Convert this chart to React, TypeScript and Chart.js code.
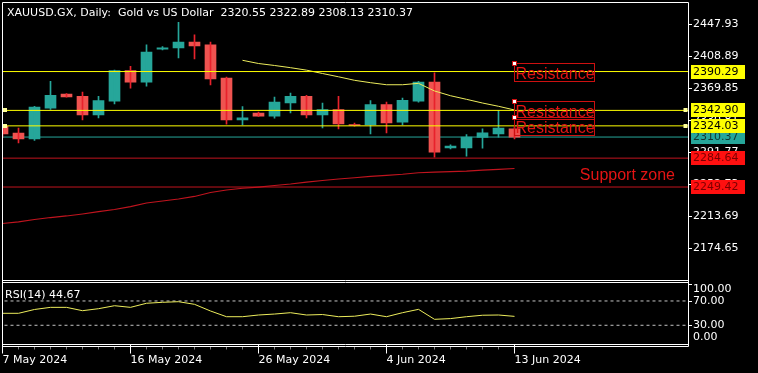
import React, { useEffect, useRef } from 'react';
import { Chart, registerables } from 'chart.js';

Chart.register(...registerables);

// ---------- data ----------
const headerText = 'XAUUSD.GX, Daily:  Gold vs US Dollar  2320.55 2322.89 2308.13 2310.37';
const rsiText = 'RSI(14) 44.67';

const dateTickIndex = [0, 8, 16, 24, 32];
const dateTickLabels = ['7 May 2024', '16 May 2024', '26 May 2024', '4 Jun 2024', '13 Jun 2024'];

const opens = [2323.5, 2315.1, 2308.2, 2345.6, 2362.7, 2360.2, 2337.5, 2354.1, 2391.5, 2377.3, 2417.5, 2419.1, 2426.1, 2422.8, 2382.2, 2331.4, 2339.5, 2335.8, 2352.1, 2360.2, 2337.5, 2344.0, 2325.7, 2325.3, 2350.1, 2328.5, 2354.1, 2377.3, 2297.2, 2297.2, 2309.8, 2314.3, 2320.55];
const highs = [2326.0, 2321.2, 2348.0, 2378.5, 2363.3, 2365.1, 2360.2, 2392.0, 2396.8, 2422.8, 2420.8, 2450.4, 2435.0, 2426.1, 2383.4, 2347.6, 2340.7, 2359.0, 2363.9, 2361.4, 2351.7, 2360.2, 2327.3, 2354.9, 2352.9, 2357.8, 2378.5, 2388.7, 2300.9, 2313.5, 2320.4, 2342.8, 2322.89];
const lows = [2310.0, 2303.3, 2306.2, 2344.0, 2359.0, 2331.4, 2333.8, 2350.9, 2370.0, 2372.4, 2416.8, 2406.9, 2405.7, 2374.0, 2326.1, 2325.3, 2335.5, 2333.4, 2339.9, 2333.8, 2321.6, 2320.4, 2323.7, 2314.3, 2315.5, 2325.3, 2352.9, 2285.8, 2296.0, 2287.1, 2296.8, 2310.2, 2308.13];
const closes = [2314.3, 2308.2, 2346.8, 2361.4, 2359.4, 2337.5, 2354.9, 2391.5, 2377.3, 2413.9, 2419.1, 2426.1, 2421.6, 2381.3, 2331.4, 2333.8, 2335.8, 2352.9, 2360.2, 2337.5, 2344.0, 2326.5, 2324.5, 2350.1, 2327.7, 2355.3, 2377.3, 2291.9, 2299.3, 2310.2, 2315.5, 2321.2, 2310.37];

const fastMaStart = 15;
const fastMa = [2404.0, 2400.1, 2397.7, 2395.0, 2392.0, 2387.9, 2383.9, 2379.6, 2376.7, 2374.2, 2374.2, 2375.9, 2366.6, 2360.8, 2356.4, 2351.9, 2347.9, 2343.4];
const slowMa = [2204.9, 2206.8, 2209.8, 2212.2, 2214.1, 2216.5, 2219.3, 2222.0, 2225.6, 2229.9, 2232.4, 2234.8, 2237.9, 2242.7, 2245.8, 2247.9, 2249.4, 2251.3, 2253.1, 2255.5, 2257.4, 2259.2, 2260.7, 2262.3, 2263.7, 2265.0, 2266.8, 2267.5, 2268.1, 2268.7, 2270.0, 2271.0, 2272.0];
const rsiValues = [49.7, 49.7, 56.0, 59.5, 59.5, 54.0, 57.3, 62.2, 59.5, 66.2, 67.8, 68.8, 64.5, 53.5, 44.1, 44.1, 46.9, 48.5, 50.7, 46.9, 47.7, 44.1, 44.9, 48.5, 44.1, 50.7, 56.2, 39.8, 41.0, 44.1, 46.5, 46.9, 44.67];

const priceTicks = [2447.93, 2408.89, 2369.85, 2330.81, 2291.77, 2252.73, 2213.69, 2174.65];
const resistanceLevels = [2390.29, 2342.9, 2324.03];
const bidPrice = 2310.37;
const supportLevels = [2284.64, 2249.42];
const rsiLevels = [70, 30];
const rsiTicks = [100, 70, 30, 0];
const resistanceLabel = 'Resistance';
const supportLabel = 'Support zone';

// ---------- styles ----------
const TEAL = '#26a69a';
const RED = '#ef5350';
const RED_WICK = '#e8222c';
const YELLOW = '#ffff00';
const MA_YELLOW = '#ecec5c';
const DARK_RED = '#c0141e';
const TEXT_RED = '#e41414';
const FONT = '"DejaVu Sans"';

export default function App() {
  const canvasRef = useRef<HTMLCanvasElement | null>(null);

  useEffect(() => {
    document.body.style.margin = '0';
    document.body.style.background = '#000';
    const canvas = canvasRef.current!;
    const idx = opens.map((_, i) => i);
    const isUp = (i: number) => closes[i] >= opens[i];

    const hline = (p: number, color: string, axis = 'y', dash: number[] = []) => ({
      type: 'line',
      data: [{ x: -1, y: p }, { x: 45, y: p }],
      borderColor: color,
      borderWidth: 1,
      borderDash: dash,
      pointRadius: 0,
      yAxisID: axis,
      clip: 0,
    });

    const overlay = {
      id: 'mtOverlay',
      beforeDraw(chart: any) {
        const c = chart.ctx;
        c.save();
        c.fillStyle = '#000';
        c.fillRect(0, 0, chart.width, chart.height);
        c.restore();
      },
      afterDraw(chart: any) {
        const c = chart.ctx;
        const a = chart.chartArea;
        const ys = chart.scales.y;
        const yr = chart.scales.yRsi;
        const xs = chart.scales.x;
        c.save();

        // panel frames
        const L = a.left;
        const R = a.right + 0.5;
        const T = a.top - 0.5;
        const rsiTop = Math.floor(yr.getPixelForValue(100)) + 0.5;
        const mainBottom = rsiTop - 2;
        const rsiBottom = a.bottom;
        const axisLine = a.bottom + 2;
        c.strokeStyle = '#ffffff';
        c.lineWidth = 1;
        c.beginPath();
        c.moveTo(L, T); c.lineTo(R, T);
        c.moveTo(L, T); c.lineTo(L, axisLine);
        c.moveTo(R, T); c.lineTo(R, axisLine);
        c.moveTo(L, mainBottom); c.lineTo(R, mainBottom);
        c.moveTo(L, rsiTop); c.lineTo(R, rsiTop);
        c.moveTo(L, rsiBottom); c.lineTo(R, rsiBottom);
        c.moveTo(L, axisLine); c.lineTo(R, axisLine);
        c.stroke();

        // minor time ticks
        c.strokeStyle = '#7a7a7a';
        c.beginPath();
        for (let k = 1; k < opens.length; k++) {
          if (dateTickIndex.includes(k)) continue;
          const px = xs.getPixelForValue(k);
          c.moveTo(px, axisLine + 0.5);
          c.lineTo(px, axisLine + 3);
        }
        c.stroke();

        // selection markers on horizontal lines
        c.fillStyle = '#ffff9a';
        resistanceLevels.slice(1).forEach((p) => {
          const py = Math.round(ys.getPixelForValue(p));
          c.fillRect(a.left + 0.5, py - 2, 4, 4);
          c.fillRect(a.right - 4.5, py - 2, 4, 4);
        });

        // texts in chart
        c.fillStyle = '#ffffff';
        c.font = `11px ${FONT}`;
        c.textAlign = 'left';
        c.textBaseline = 'alphabetic';
        c.fillText(headerText, 7, 15.5);
        c.fillText(rsiText, 5, 297.5);

        // RSI axis labels
        c.textBaseline = 'middle';
        rsiTicks.forEach((v) => {
          let py = yr.getPixelForValue(v);
          let tickY = Math.round(py) + 0.5;
          if (v === 100) { py += 6.7; tickY = Math.round(py) - 4.5; }
          if (v === 0) { py -= 6; tickY = -1; }
          c.fillStyle = '#ffffff';
          c.fillText(v.toFixed(2), a.right + 5, py);
          if (tickY > 0) {
            c.strokeStyle = '#ffffff';
            c.beginPath();
            c.moveTo(a.right, tickY);
            c.lineTo(a.right + 4, tickY);
            c.stroke();
          }
        });

        // resistance labels
        const lx = xs.getPixelForValue(opens.length - 1);
        c.font = '16px "Liberation Sans"';
        c.textBaseline = 'alphabetic';
        resistanceLevels.forEach((p) => {
          const top = Math.round(ys.getPixelForValue(p) - 9) + 0.5;
          c.strokeStyle = '#cc1010';
          c.strokeRect(lx, top, 80, 18);
          c.fillStyle = TEXT_RED;
          c.fillText(resistanceLabel, lx + 1, top + 15);
          c.fillStyle = '#ffffff';
          c.fillRect(lx - 2, top - 2, 4, 4);
          c.strokeStyle = '#cc1010';
          c.strokeRect(lx - 2, top - 2, 4, 4);
        });

        // support zone text
        const mid = (ys.getPixelForValue(supportLevels[0]) + ys.getPixelForValue(supportLevels[1])) / 2;
        c.fillStyle = TEXT_RED;
        c.textAlign = 'right';
        c.fillText(supportLabel, a.right - 13, mid + 7);

        // price tags on the axis
        c.textAlign = 'left';
        c.textBaseline = 'middle';
        c.font = `11px ${FONT}`;
        const tag = (p: number, bg: string, fg: string) => {
          const top = Math.round(ys.getPixelForValue(p)) - 7;
          c.fillStyle = bg;
          c.fillRect(a.right + 3, top, 54, 14);
          c.fillStyle = fg;
          c.fillText(p.toFixed(2), a.right + 5, top + 7.5);
        };
        supportLevels.forEach((p) => tag(p, '#ff1010', '#7a0000'));
        tag(bidPrice, TEAL, '#143430');
        resistanceLevels.forEach((p) => tag(p, YELLOW, '#000000'));

        c.restore();
      },
    };

    const datasets: any[] = [
      ...resistanceLevels.map((p) => hline(p, YELLOW)),
      ...supportLevels.map((p) => hline(p, DARK_RED)),
      {
        type: 'line',
        data: fastMa.map((v, i) => ({ x: fastMaStart + i, y: v })),
        borderColor: MA_YELLOW,
        borderWidth: 1,
        pointRadius: 0,
        yAxisID: 'y',
        clip: 0,
      },
      {
        type: 'line',
        data: slowMa.map((v, i) => ({ x: i, y: v })),
        borderColor: DARK_RED,
        borderWidth: 1.2,
        pointRadius: 0,
        yAxisID: 'y',
        clip: 0,
      },
      {
        type: 'line',
        data: rsiValues.map((v, i) => ({ x: i, y: v })),
        borderColor: MA_YELLOW,
        borderWidth: 1,
        pointRadius: 0,
        yAxisID: 'yRsi',
        clip: 0,
      },
      ...rsiLevels.map((v) => hline(v, '#c4c4c4', 'yRsi', [3, 3])),
      {
        type: 'bar',
        data: idx.map((i) => ({ x: i, y: [lows[i], highs[i]] })),
        backgroundColor: idx.map((i) => (isUp(i) ? TEAL : RED_WICK)),
        barThickness: 1,
        grouped: false,
        borderWidth: 0,
        yAxisID: 'y',
        clip: 0,
      },
      {
        type: 'bar',
        data: idx.map((i) => ({ x: i, y: [opens[i], closes[i]] })),
        backgroundColor: idx.map((i) => (isUp(i) ? TEAL : RED)),
        barThickness: 11,
        minBarLength: 1,
        grouped: false,
        borderWidth: 0,
        yAxisID: 'y',
        clip: 0,
      },
      hline(bidPrice, TEAL),
    ];

    const chart = new Chart(canvas, {
      type: 'bar',
      data: { datasets },
      options: {
        responsive: false,
        maintainAspectRatio: false,
        animation: false,
        events: [],
        layout: { padding: { left: 2.5, top: 3, right: 0, bottom: 0 } },
        plugins: {
          legend: { display: false },
          tooltip: { enabled: false },
          title: { display: false },
        },
        scales: {
          x: {
            type: 'linear',
            position: 'bottom',
            min: 0,
            max: 42.84375,
            offset: false,
            grid: {
              display: true,
              drawOnChartArea: false,
              drawTicks: true,
              tickLength: 9,
              color: '#ffffff',
              tickColor: '#ffffff',
              offset: false,
            },
            border: { display: false },
            ticks: {
              autoSkip: false,
              maxRotation: 0,
              minRotation: 0,
              align: 'start',
              padding: 0,
              color: '#ffffff',
              font: { family: 'DejaVu Sans', size: 11 },
              callback: (v: any) => {
                const j = dateTickIndex.indexOf(Number(v));
                return j >= 0 ? dateTickLabels[j] : '';
              },
            },
            afterBuildTicks: (s: any) => {
              s.ticks = dateTickIndex.map((v) => ({ value: v }));
            },
            afterFit: (s: any) => {
              s.height = 28.5;
              s.paddingLeft = 0;
              s.paddingRight = 0;
            },
          },
          y: {
            type: 'linear',
            position: 'right',
            min: 2057.3,
            max: 2473.915,
            grid: {
              display: true,
              drawOnChartArea: false,
              drawTicks: true,
              tickLength: 4,
              color: '#ffffff',
              tickColor: '#ffffff',
            },
            border: { display: false },
            ticks: {
              autoSkip: false,
              padding: 1,
              color: '#ffffff',
              font: { family: 'DejaVu Sans', size: 11 },
              callback: (v: any) => Number(v).toFixed(2),
            },
            afterBuildTicks: (s: any) => {
              s.ticks = priceTicks.map((v) => ({ value: v }));
            },
            afterFit: (s: any) => {
              s.width = 70;
              s.paddingTop = 0;
              s.paddingBottom = 0;
            },
          },
          yRsi: {
            type: 'linear',
            display: false,
            min: -1.65,
            max: 560.49,
          },
        },
      } as any,
      plugins: [overlay],
    } as any);

    return () => chart.destroy();
  }, []);

  return (
    <div style={{ width: 758, height: 373, background: '#000' }}>
      <canvas ref={canvasRef} width={758} height={373} style={{ display: 'block', width: 758, height: 373 }} />
    </div>
  );
}
